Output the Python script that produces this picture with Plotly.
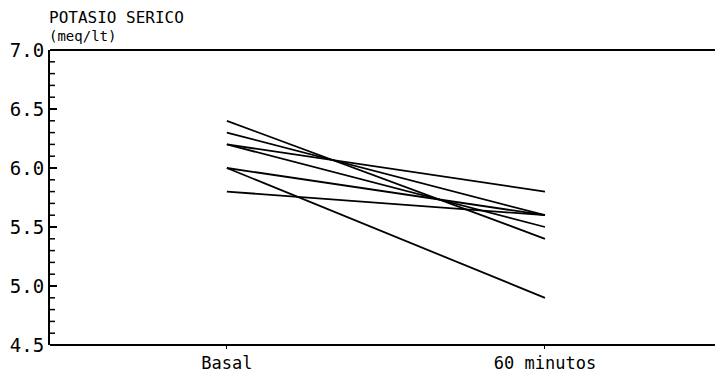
import plotly.graph_objects as go

categories = ["Basal", "60 minutos"]
basal = [6.2, 6.4, 6.3, 6.2, 6.0, 5.8, 6.0]
min60 = [5.8, 5.4, 5.6, 5.5, 5.6, 5.6, 4.9]
y_ticks = [4.5, 5.0, 5.5, 6.0, 6.5, 7.0]
y_minor = [round(4.5 + 0.1 * i, 1) for i in range(26)]

FONT = "DejaVu Sans Mono"
L, R = 46, 10
PLOT_W = 715 - L - R
XEND = 1 + R / PLOT_W
fig = go.Figure()
xpos = list(range(len(categories)))
for b, m in zip(basal, min60):
    fig.add_trace(go.Scatter(x=xpos, y=[b, m], mode="lines",
                             line=dict(color="black", width=1.8),
                             showlegend=False, hoverinfo="skip"))

shapes = [
    dict(type="line", xref="paper", yref="paper", x0=0, x1=XEND, y0=1, y1=1,
         line=dict(color="black", width=2)),
    dict(type="line", xref="paper", yref="paper", x0=0, x1=XEND, y0=0, y1=0,
         line=dict(color="black", width=2)),
]
for v in y_minor:
    if v in y_ticks:
        continue
    shapes.append(dict(type="line", xref="paper", yref="y", x0=0, x1=5 / PLOT_W,
                       y0=v, y1=v, line=dict(color="black", width=1.5)))

fig.update_layout(
    width=715, height=383,
    margin=dict(l=L, r=R, t=50, b=34),
    paper_bgcolor="white", plot_bgcolor="white",
    font=dict(family=FONT, color="black"),
    xaxis=dict(range=[-0.556, 1.503], tickvals=xpos, ticktext=categories,
               showgrid=False, zeroline=False, showline=False,
               ticks="outside", ticklen=3,
               tickcolor="black", tickfont=dict(family=FONT, size=17)),
    yaxis=dict(range=[4.5, 7.0], tickvals=y_ticks, tickformat=".1f",
               showgrid=False, zeroline=False, showline=True, linecolor="black",
               linewidth=2, ticks="inside", ticklen=7, tickwidth=1.5,
               tickcolor="black", tickfont=dict(family=FONT, size=19)),
    shapes=shapes,
    annotations=[
        dict(text="POTASIO SERICO", xref="paper", yref="paper", x=0, y=1.11,
             xanchor="left", yanchor="middle", showarrow=False, xshift=-3,
             font=dict(family=FONT, size=16, color="black")),
        dict(text="(meq/lt)", xref="paper", yref="paper", x=0, y=1.047,
             xanchor="left", yanchor="middle", showarrow=False, xshift=-3,
             font=dict(family=FONT, size=14, color="black")),
    ],
)

fig.write_html("out.html")
